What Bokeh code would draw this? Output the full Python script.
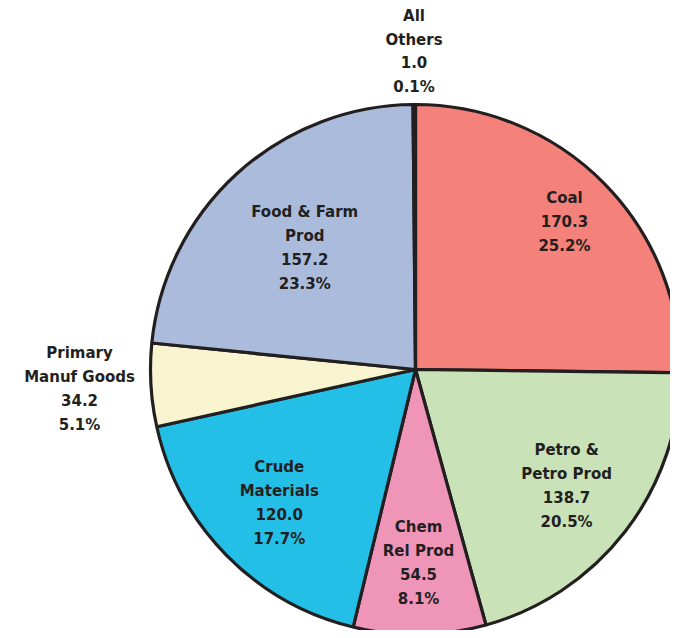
import numpy as np
from bokeh.plotting import figure
from bokeh.models import ColumnDataSource, Range1d
from bokeh.core.properties import value
from bokeh.embed import file_html
from bokeh.resources import INLINE

# ---- data ----
categories = ["Coal", "Petro &\nPetro Prod", "Chem\nRel Prod", "Crude\nMaterials",
              "Primary\nManuf Goods", "Food & Farm\nProd", "All\nOthers"]
values = [170.3, 138.7, 54.5, 120.0, 34.2, 157.2, 1.0]
percents = [25.2, 20.5, 8.1, 17.7, 5.1, 23.3, 0.1]
colors = ["#F4817A", "#C9E2B8", "#EE95B8", "#24BFE7", "#F8F4D0", "#ABBBDC", "#231F20"]

# ---- layout / style ----
W, H = 670, 630
CX, CY, R = 415, 261, 265
label_r = [0.79, 0.72, 0.73, 0.72, 1.27, 0.62, 1.20]
edge = "#231F20"

vals = np.array(values)
frac = vals / vals.sum()
cum = np.concatenate([[0], np.cumsum(frac)])
start = np.pi / 2 - 2 * np.pi * cum[:-1]
end = np.pi / 2 - 2 * np.pi * cum[1:]
mid = (start + end) / 2

lx = CX + np.array(label_r) * R * np.cos(mid)
ly = CY + np.array(label_r) * R * np.sin(mid)
texts = [f"{c}\n{v:.1f}\n{p:.1f}%" for c, v, p in zip(categories, values, percents)]

src = ColumnDataSource(dict(start=start, end=end, color=colors, lx=lx, ly=ly, text=texts))

p = figure(width=W, height=H, output_backend="svg", toolbar_location=None,
           x_range=Range1d(0, W), y_range=Range1d(0, H), min_border=0)
p.axis.visible = False
p.grid.visible = False
p.outline_line_color = None

p.wedge(x=CX, y=CY, radius=R, start_angle="start", end_angle="end", direction="clock",
        fill_color="color", line_color=edge, line_width=3.2, source=src)

p.text(x="lx", y="ly", text="text", source=src, text_align="center", text_baseline="middle",
       text_font=value("DejaVu Sans"), text_font_style="bold", text_font_size="15px",
       text_color=edge, text_line_height=1.33)

open("out.html", "w").write(file_html(p, INLINE))
